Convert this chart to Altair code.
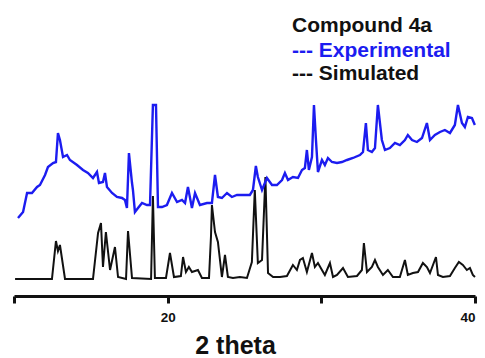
import altair as alt
import pandas as pd

# Experimental pattern (2-theta, intensity a.u.)
exp_theta = [10.26, 10.59, 10.85, 11.17, 11.50, 11.69, 12.02, 12.21, 12.54, 12.73, 12.86, 12.99, 13.19, 13.45,
             13.64, 14.10, 14.49, 14.81, 15.14, 15.40, 15.53, 15.79, 15.92, 16.05, 16.38, 16.70, 17.03, 17.22,
             17.35, 17.48, 17.68, 17.74, 17.87, 18.07, 18.33, 18.65, 18.85, 19.04, 19.24, 19.37, 19.63, 19.95,
             20.28, 20.61, 20.93, 21.13, 21.32, 21.58, 21.78, 22.10, 22.56, 22.88, 23.08, 23.27, 23.53, 23.86,
             24.18, 24.51, 24.90, 25.35, 25.55, 25.74, 25.87, 26.14, 26.46, 26.79, 27.11, 27.44, 27.63, 27.83,
             28.15, 28.48, 28.74, 28.93, 29.06, 29.19, 29.39, 29.52, 29.65, 29.78, 30.04, 30.23, 30.43, 30.69,
             31.02, 31.34, 31.67, 32.06, 32.51, 32.71, 32.90, 33.03, 33.29, 33.49, 33.68, 33.94, 34.14, 34.46,
             34.79, 35.11, 35.44, 35.63, 35.90, 36.22, 36.55, 36.87, 37.07, 37.39, 37.72, 38.04, 38.37, 38.69,
             38.89, 39.15, 39.34, 39.54, 39.80, 39.99]
exp_int = [78, 84, 103, 103, 109, 111, 121, 129, 133, 134, 163, 156, 139, 141,
           136, 131, 126, 123, 118, 124, 113, 114, 123, 109, 103, 99, 98, 96,
           88, 143, 113, 106, 84, 88, 93, 91, 91, 191, 191, 89, 89, 91,
           103, 94, 96, 93, 109, 88, 103, 91, 93, 93, 121, 99, 98, 103,
           99, 101, 101, 101, 106, 130, 119, 106, 118, 111, 111, 116, 123, 116,
           119, 118, 126, 128, 146, 126, 139, 191, 156, 124, 136, 131, 138, 134,
           133, 134, 136, 138, 141, 144, 173, 146, 144, 148, 191, 156, 146, 148,
           153, 151, 156, 161, 156, 154, 158, 173, 156, 161, 164, 166, 163, 171,
           191, 173, 169, 179, 178, 171]

# Simulated pattern
sim_theta = [10.07, 12.47, 12.73, 12.86, 12.99, 13.32, 15.14, 15.47, 15.66, 15.79, 15.98, 16.25, 16.57, 16.77,
             17.29, 17.42, 17.68, 18.92, 19.04, 19.17, 19.89, 20.15, 20.41, 20.86, 21.00, 21.19, 21.38, 21.58,
             21.97, 22.23, 22.69, 22.82, 22.88, 23.08, 23.27, 23.53, 23.73, 23.92, 24.25, 24.70, 25.16, 25.48,
             25.67, 25.87, 26.14, 26.36, 26.53, 26.86, 27.31, 27.76, 28.15, 28.41, 28.61, 28.80, 29.06, 29.39,
             29.58, 29.78, 30.04, 30.23, 30.56, 30.76, 31.02, 31.41, 31.73, 32.32, 32.64, 32.77, 32.97, 33.29,
             33.49, 33.68, 34.01, 34.33, 34.66, 35.11, 35.44, 35.63, 35.96, 36.29, 36.61, 36.87, 37.07, 37.46,
             37.59, 37.91, 38.37, 38.69, 38.95, 39.21, 39.47, 39.67, 39.86, 40.00]
sim_int = [17, 17, 55, 45, 51, 17, 17, 63, 73, 29, 64, 26, 49, 19,
           17, 65, 18, 17, 100, 18, 18, 43, 19, 20, 39, 24, 29, 24,
           26, 18, 18, 60, 91, 64, 54, 19, 41, 19, 18, 19, 18, 34,
           106, 33, 36, 119, 23, 19, 19, 20, 31, 26, 36, 38, 24, 43,
           29, 33, 26, 21, 33, 19, 21, 28, 19, 20, 26, 53, 24, 29,
           36, 29, 21, 26, 19, 19, 36, 21, 23, 24, 33, 29, 23, 39,
           21, 19, 20, 28, 34, 31, 26, 28, 21, 19]

legend_text = ["Compound 4a", "--- Experimental", "--- Simulated"]
legend_color = ["#111111", "#1c1cf0", "#111111"]
legend_y = [-71, -46, -23]

exp_df = pd.DataFrame({"theta": exp_theta, "intensity": exp_int})
sim_df = pd.DataFrame({"theta": sim_theta, "intensity": sim_int})
leg_df = pd.DataFrame({"text": legend_text, "color": legend_color, "y": legend_y})

xscale = alt.Scale(domain=[10, 40], nice=False, zero=False)
yscale = alt.Scale(domain=[0, 193], nice=False, zero=True)

xaxis = alt.Axis(
    values=[10, 20, 30, 40],
    labelExpr="datum.value == 20 || datum.value == 40 ? datum.label : ''",
    title="2 theta",
    titleFont="Liberation Sans", titleFontSize=25, titleFontWeight="bold", titleColor="#111111",
    titleX=221, titleY=57, titleBaseline="alphabetic", titleAnchor="middle",
    labelFont="Liberation Sans", labelFontSize=13.5, labelFontWeight="bold", labelColor="#111111",
    labelPadding=7,
    domainColor="#111111", domainWidth=3,
    tickColor="#111111", tickWidth=3, tickSize=7,
    grid=False,
)

sim = alt.Chart(sim_df).mark_line(color="#111111", strokeWidth=2).encode(
    x=alt.X("theta:Q", scale=xscale, axis=xaxis),
    y=alt.Y("intensity:Q", scale=yscale, axis=None),
)

exp = alt.Chart(exp_df).mark_line(color="#1c1cf0", strokeWidth=2.4).encode(
    x=alt.X("theta:Q", scale=xscale),
    y=alt.Y("intensity:Q", scale=yscale),
)

leg = alt.Chart(leg_df).mark_text(
    align="left", baseline="alphabetic", font="Liberation Sans", fontSize=21, fontWeight="bold"
).encode(
    x=alt.value(278),
    y=alt.Y("y:Q", scale=None),
    text="text:N",
    color=alt.Color("color:N", scale=None),
)

chart = alt.layer(sim, exp, leg).properties(
    width=461, height=193,
    autosize=alt.AutoSizeParams(type="none"),
    padding={"left": 14, "top": 103, "right": 10, "bottom": 62},
    background="white",
).configure_view(stroke=None)

chart.save("out.html", embed_options={"renderer": "svg", "actions": False})
